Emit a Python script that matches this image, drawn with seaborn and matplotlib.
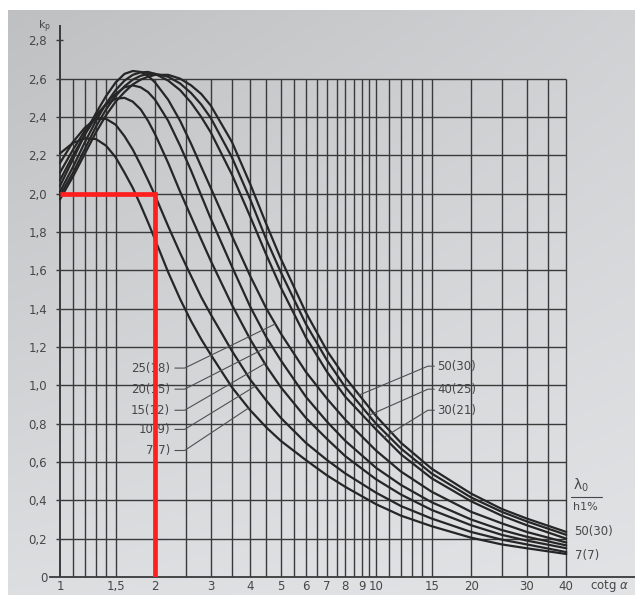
import numpy as np
import pandas as pd
import matplotlib
matplotlib.use("Agg")
import matplotlib.pyplot as plt
import seaborn as sns

# cotg(alpha) sample positions and kp values for each lambda0/h1% curve
cotg = [1, 1.1, 1.2, 1.3, 1.4, 1.5, 1.6, 1.7, 1.8, 1.9, 2, 2.2, 2.4, 2.6, 2.8, 3,
        3.5, 4, 4.5, 5, 6, 7, 8, 10, 12, 15, 20, 25, 30, 40]
kp_7 = [2.21, 2.265, 2.288, 2.285, 2.25, 2.19, 2.11, 2.03, 1.94, 1.85, 1.76, 1.59, 1.45, 1.335, 1.24, 1.16,
        0.99, 0.87, 0.78, 0.71, 0.61, 0.53, 0.47, 0.38, 0.32, 0.265, 0.205, 0.17, 0.15, 0.12]
kp_10 = [2.16, 2.27, 2.345, 2.39, 2.39, 2.36, 2.30, 2.23, 2.15, 2.07, 1.99, 1.83, 1.69, 1.57, 1.46, 1.37,
         1.18, 1.03, 0.92, 0.83, 0.70, 0.61, 0.54, 0.44, 0.37, 0.305, 0.235, 0.195, 0.17, 0.13]
kp_15 = [2.11, 2.23, 2.33, 2.41, 2.465, 2.495, 2.50, 2.48, 2.44, 2.38, 2.31, 2.16, 2.01, 1.88, 1.76, 1.65,
         1.42, 1.24, 1.10, 0.99, 0.83, 0.72, 0.63, 0.51, 0.43, 0.35, 0.27, 0.22, 0.19, 0.15]
kp_20 = [2.07, 2.20, 2.31, 2.40, 2.47, 2.52, 2.555, 2.565, 2.555, 2.53, 2.49, 2.38, 2.25, 2.12, 1.99, 1.87,
         1.62, 1.41, 1.25, 1.13, 0.94, 0.81, 0.71, 0.57, 0.48, 0.39, 0.30, 0.245, 0.21, 0.165]
kp_25 = [2.04, 2.18, 2.31, 2.42, 2.51, 2.58, 2.625, 2.64, 2.635, 2.615, 2.58, 2.49, 2.38, 2.26, 2.14, 2.03,
         1.78, 1.57, 1.40, 1.27, 1.07, 0.93, 0.82, 0.66, 0.55, 0.445, 0.34, 0.28, 0.235, 0.18]
kp_30 = [2.01, 2.14, 2.27, 2.38, 2.47, 2.54, 2.59, 2.62, 2.633, 2.635, 2.625, 2.59, 2.54, 2.475, 2.40, 2.32,
         2.10, 1.88, 1.68, 1.51, 1.25, 1.07, 0.94, 0.77, 0.64, 0.515, 0.395, 0.32, 0.27, 0.20]
kp_40 = [1.99, 2.11, 2.235, 2.35, 2.44, 2.51, 2.56, 2.595, 2.615, 2.625, 2.625, 2.61, 2.575, 2.525, 2.465, 2.395,
         2.19, 1.97, 1.76, 1.59, 1.32, 1.13, 0.99, 0.80, 0.67, 0.54, 0.415, 0.34, 0.29, 0.22]
kp_50 = [1.97, 2.09, 2.21, 2.32, 2.41, 2.48, 2.53, 2.57, 2.595, 2.61, 2.62, 2.62, 2.60, 2.565, 2.52, 2.46,
         2.27, 2.05, 1.84, 1.66, 1.38, 1.18, 1.04, 0.84, 0.70, 0.565, 0.435, 0.355, 0.305, 0.235]

series_names = ["7(7)", "10(9)", "15(12)", "20(15)", "25(18)", "30(21)", "40(25)", "50(30)"]
series_values = [kp_7, kp_10, kp_15, kp_20, kp_25, kp_30, kp_40, kp_50]

# axis ticks
x_ticks = [1, 1.5, 2, 3, 4, 5, 6, 7, 8, 9, 10, 15, 20, 30, 40]
x_tick_labels = ["1", "1,5", "2", "3", "4", "5", "6", "7", "8", "9", "10", "15", "20", "30", "40"]
y_ticks = [0, 0.2, 0.4, 0.6, 0.8, 1.0, 1.2, 1.4, 1.6, 1.8, 2.0, 2.2, 2.4, 2.6, 2.8]
y_tick_labels = ["0", "0,2", "0,4", "0,6", "0,8", "1,0", "1,2", "1,4", "1,6", "1,8", "2,0", "2,2", "2,4", "2,6", "2,8"]

# log-paper rulings
v_grid = [1.1, 1.2, 1.3, 1.4, 1.5, 2, 2.5, 3, 3.5, 4, 4.5, 5, 5.5, 6, 6.5, 7, 7.5, 8, 8.5,
          9, 9.5, 10, 11, 12, 13, 14, 15, 20, 25, 30, 35, 40]
h_grid = [0.2, 0.4, 0.6, 0.8, 1.0, 1.2, 1.4, 1.6, 1.8, 2.0, 2.2, 2.4, 2.6]

# curve call-outs
left_labels = ["25(18)", "20(15)", "15(12)", "10(9)", "7(7)"]
left_label_y = [1.09, 0.98, 0.87, 0.77, 0.66]
left_leader_x = [4.8, 4.66, 4.45, 4.15, 3.95]
right_labels = ["50(30)", "40(25)", "30(21)"]
right_label_y = [1.10, 0.98, 0.87]
right_leader_x = [8.85, 9.5, 10.6]

# reading example: kp = 2,0 at cotg = 2
example_cotg = 2.0
example_kp = 2.0

sns.set_style("white")
plt.rcParams["font.family"] = ["DejaVu Sans"]

INK = "#262626"
GRID = "#3a3a3a"
TXT = "#474747"

fig = plt.figure(figsize=(6.35, 5.95), dpi=100)
fig.patch.set_facecolor("white")

# paper background, darker towards the top-left
bg = fig.add_axes([8 / 635, 0, 1 - 8 / 635, 1 - 10 / 595], zorder=-5)
gx, gy = np.meshgrid(np.linspace(0, 1, 200), np.linspace(0, 1, 200))
shade = 0.76 + 0.07 * gx + 0.12 * gy - 0.05 * gx * gy
rgb = np.dstack([shade * 0.985, shade * 0.99, shade * 1.0]).clip(0, 1)
bg.imshow(rgb, aspect="auto", origin="upper", extent=[0, 1, 1, 0])
bg.axis("off")

ax = fig.add_axes([50 / 635, 18 / 595, 1 - 50 / 635, (577 - 25) / 595])
ax.set_facecolor("none")
ax.set_xscale("log")
ax.set_xlim(0.93, 66)
ax.set_ylim(0, 2.88)
for s in ["top", "right", "left"]:
    ax.spines[s].set_visible(False)
ax.spines["bottom"].set_color(GRID)
ax.spines["bottom"].set_linewidth(1.3)

# ruled grid
ax.vlines(v_grid, 0, 2.6, color=GRID, lw=1.0, zorder=1)
ax.hlines(h_grid, 0.975, 40, color=GRID, lw=1.0, zorder=1)
ax.hlines([2.8], 0.975, 1.025, color=GRID, lw=1.0, zorder=1)
ax.plot([1, 1], [0, 2.88], color=GRID, lw=1.4, zorder=2)

# kp curves
rows = []
for name, vals in zip(series_names, series_values):
    for c, k in zip(cotg, vals):
        rows.append({"cotg": c, "kp": k, "curve": name})
df = pd.DataFrame(rows)
sns.lineplot(data=df, x="cotg", y="kp", units="curve", estimator=None, sort=False,
             color=INK, lw=1.6, ax=ax, zorder=3)
ax.set_xlabel("")
ax.set_ylabel("")

lookup = dict(zip(series_names, series_values))
logc = np.log10(cotg)


def on_curve(name, x):
    return float(np.interp(np.log10(x), logc, lookup[name]))


# left call-outs
for lab, ly, lx in zip(left_labels, left_label_y, left_leader_x):
    ax.text(2.23, ly, lab, ha="right", va="center", fontsize=8.5, color=TXT, zorder=4)
    ax.plot([2.31, 2.48, lx], [ly, ly, on_curve(lab, lx)], color="#505050", lw=0.8, zorder=3)

# right call-outs
for lab, ly, lx in zip(right_labels, right_label_y, right_leader_x):
    ax.text(15.6, ly, lab, ha="left", va="center", fontsize=8.5, color=TXT, zorder=4)
    ax.plot([15.3, 14.6, lx], [ly, ly, on_curve(lab, lx)], color="#505050", lw=0.8, zorder=3)

# parameter key at the right end of the curves
ax.text(42, 0.48, "λ$_0$", ha="left", va="center", fontsize=10, color=TXT)
ax.plot([41.5, 52], [0.415, 0.415], color=TXT, lw=0.8, clip_on=False)
ax.text(42, 0.365, "h1%", ha="left", va="center", fontsize=8, color=TXT)
ax.text(42.5, 0.24, "50(30)", ha="left", va="center", fontsize=8.5, color=TXT)
ax.text(42.5, 0.11, "7(7)", ha="left", va="center", fontsize=8.5, color=TXT)

# reading example in red
ax.plot([1, example_cotg, example_cotg], [example_kp, example_kp, 0], color="#ff1f1f",
        lw=3.4, solid_joinstyle="miter", solid_capstyle="butt", zorder=5)

# ticks
ax.set_xticks(x_ticks)
ax.set_xticklabels(x_tick_labels)
ax.xaxis.set_minor_locator(matplotlib.ticker.NullLocator())
ax.set_yticks(y_ticks)
ax.set_yticklabels(y_tick_labels)
ax.tick_params(axis="both", length=0, labelsize=8.5, labelcolor=TXT)
ax.tick_params(axis="x", pad=2.5)
ax.tick_params(axis="y", pad=2)

ax.text(47.5, -0.048, r"cotg $\alpha$", ha="left", va="center", fontsize=8.5, color=TXT, clip_on=False)
ax.text(0.85, 2.87, r"k$_\mathregular{p}$", ha="left", va="center", fontsize=8, color=TXT, clip_on=False)

fig.savefig("out.png", dpi=100)
